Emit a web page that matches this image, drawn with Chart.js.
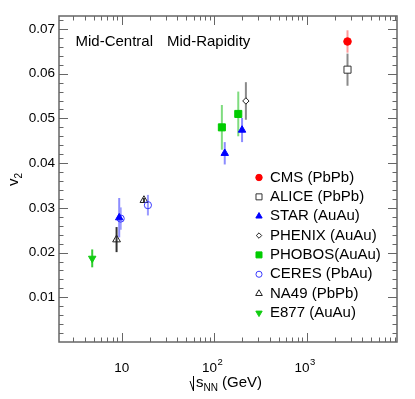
<!DOCTYPE html>
<html>
<head>
<meta charset="utf-8">
<script src="https://cdn.jsdelivr.net/npm/chart.js@4.4.0/dist/chart.umd.min.js"></script>
<style>
  html, body { margin: 0; padding: 0; background: #fff; }
  #wrap { width: 415px; height: 399px; position: relative; }
</style>
</head>
<body>
<div id="wrap"><canvas id="grafico"></canvas></div>
<script>
// Datos (sqrt(s_NN) en GeV, v2 y error)
const cmsE = [2760];            const cmsV = [0.0672];                   const cmsErr = [0.0025];
const aliceE = [2760];          const aliceV = [0.0609];                 const aliceErr = [0.0036];
const starE = [9.4, 130, 200];  const starV = [0.0278, 0.0422, 0.0474];  const starErr = [0.0044, 0.0025, 0.0027];
const phenixE = [220];          const phenixV = [0.0539];                const phenixErr = [0.0042];
const phobosE = [121, 182];     const phobosV = [0.0480, 0.0510];        const phobosErr = [0.0050, 0.0050];
const ceresE = [9.75, 19.2];    const ceresV = [0.0276, 0.0306];         const ceresErr = [0.0025, 0.0023];
const na49E = [8.8, 17.4];      const na49V = [0.0229, 0.0317];          const na49Err = [0.0028, 0.0005];
const e877E = [4.8];            const e877V = [0.0187];                  const e877Err = [0.0020];

const yTicks = [0.01, 0.02, 0.03, 0.04, 0.05, 0.06, 0.07];
const xTicks = [10, 100, 1000];
const xTickLabels = [['10', ''], ['10', '2'], ['10', '3']];

const FONT = '"Liberation Sans", Arial, Helvetica, sans-serif';

function serie(label, e, v, err, estilo) {
    return Object.assign({
        label: label,
        data: e.map((x, i) => ({ x: x, y: v[i] })),
        err: err,
        borderWidth: 1,
        pointHoverRadius: 0
    }, estilo);
}

const datasets = [
    serie('CMS (PbPb)', cmsE, cmsV, cmsErr, { pointStyle: 'circle', pointRadius: 3.8, backgroundColor: '#ff0000', borderColor: '#ff0000', errColor: '#ff9a9a' }),
    serie('ALICE (PbPb)', aliceE, aliceV, aliceErr, { pointStyle: 'rect', pointRadius: 5, backgroundColor: '#ffffff', borderColor: '#333333', errColor: '#8a8a8a' }),
    serie('STAR (AuAu)', starE, starV, starErr, { pointStyle: 'triangle', pointRadius: 4.3, backgroundColor: '#0000ff', borderColor: '#0000ff', errColor: '#8c8cff' }),
    serie('PHENIX (AuAu)', phenixE, phenixV, phenixErr, { pointStyle: 'rectRot', pointRadius: 3.2, backgroundColor: '#ffffff', borderColor: '#222222', errColor: '#8a8a8a' }),
    serie('PHOBOS(AuAu)', phobosE, phobosV, phobosErr, { pointStyle: 'rect', pointRadius: 5, backgroundColor: '#00cc00', borderColor: '#00cc00', errColor: '#7fdc7f' }),
    serie('CERES (PbAu)', ceresE, ceresV, ceresErr, { pointStyle: 'circle', pointRadius: 3.6, backgroundColor: 'rgba(0,0,0,0)', borderColor: '#3a3aff', errColor: '#9a9aff' }),
    serie('NA49 (PbPb)', na49E, na49V, na49Err, { pointStyle: 'triangle', pointRadius: 4.5, backgroundColor: 'rgba(0,0,0,0)', borderColor: '#222222', errColor: '#333333' }),
    serie('E877 (AuAu)', e877E, e877V, e877Err, { pointStyle: 'triangle', rotation: 180, pointRadius: 4.3, backgroundColor: '#11cc11', borderColor: '#11cc11', errColor: '#33cc33' })
];

// Barras de error detras de los puntos
const barrasError = {
    id: 'barrasError',
    beforeDatasetsDraw(chart) {
        const ctx = chart.ctx;
        const xs = chart.scales.x, ys = chart.scales.y;
        ctx.save();
        chart.data.datasets.forEach(ds => {
            ctx.strokeStyle = ds.errColor;
            ctx.lineWidth = 2;
            ds.data.forEach((p, i) => {
                const px = xs.getPixelForValue(p.x);
                ctx.beginPath();
                ctx.moveTo(px, ys.getPixelForValue(p.y - ds.err[i]));
                ctx.lineTo(px, ys.getPixelForValue(p.y + ds.err[i]));
                ctx.stroke();
            });
        });
        ctx.restore();
    }
};

// Marco estilo ROOT: ticks hacia dentro, etiquetas, titulos y leyenda
const marco = {
    id: 'marco',
    afterDraw(chart) {
        const ctx = chart.ctx;
        const a = chart.chartArea;
        const xs = chart.scales.x, ys = chart.scales.y;
        ctx.save();
        ctx.strokeStyle = '#666';
        ctx.lineWidth = 1.5;
        ctx.strokeRect(a.left, a.top, a.right - a.left, a.bottom - a.top);

        ctx.lineWidth = 1;
        ctx.beginPath();
        // ticks eje y (mayores cada 0.01, menores cada 0.002)
        for (let k = 0; k <= 36; k++) {
            const v = k * 0.002;
            const py = Math.round(ys.getPixelForValue(v)) + 0.5;
            if (py < a.top || py > a.bottom) continue;
            const len = (k % 5 === 0) ? 9 : 4.5;
            ctx.moveTo(a.left, py); ctx.lineTo(a.left + len, py);
            ctx.moveTo(a.right, py); ctx.lineTo(a.right - len, py);
        }
        // ticks eje x logaritmico
        for (let d = 1; d <= 1000; d *= 10) {
            for (let m = 1; m <= 9; m++) {
                const v = m * d;
                if (v < xs.min || v > xs.max) continue;
                const px = Math.round(xs.getPixelForValue(v)) + 0.5;
                const len = (m === 1) ? 9 : 4.5;
                ctx.moveTo(px, a.bottom); ctx.lineTo(px, a.bottom - len);
                ctx.moveTo(px, a.top); ctx.lineTo(px, a.top + len);
            }
        }
        ctx.stroke();

        // etiquetas eje y
        ctx.fillStyle = '#000';
        ctx.font = '13.5px ' + FONT;
        ctx.textAlign = 'right';
        ctx.textBaseline = 'middle';
        yTicks.forEach(v => ctx.fillText(v.toFixed(2), a.left - 4, ys.getPixelForValue(v)));

        // etiquetas eje x con exponentes
        xTicks.forEach((v, i) => {
            const [base, exp] = xTickLabels[i];
            ctx.font = '13.5px ' + FONT;
            const wb = ctx.measureText(base).width;
            ctx.font = '9.5px ' + FONT;
            const we = exp ? ctx.measureText(exp).width : 0;
            const x0 = xs.getPixelForValue(v) - (wb + we) / 2 - (exp ? 2 : 0);
            ctx.textAlign = 'left';
            ctx.textBaseline = 'alphabetic';
            ctx.font = '13.5px ' + FONT;
            ctx.fillText(base, x0, 372);
            if (exp) {
                ctx.font = '9.5px ' + FONT;
                ctx.fillText(exp, x0 + wb + 0.5, 365);
            }
        });

        // titulo eje x: raiz(s_NN) (GeV)
        ctx.strokeStyle = '#000';
        ctx.lineWidth = 1;
        ctx.beginPath();
        ctx.moveTo(190, 381); ctx.lineTo(193.5, 391); ctx.lineTo(193.5, 376);
        ctx.stroke();
        ctx.font = '15px ' + FONT;
        ctx.textAlign = 'left';
        ctx.fillText('s', 196, 387);
        let wx = 196 + ctx.measureText('s').width;
        ctx.font = '10px ' + FONT;
        ctx.fillText('NN', wx, 391);
        wx += ctx.measureText('NN').width;
        ctx.font = '15px ' + FONT;
        ctx.fillText(' (GeV)', wx, 387);

        // titulo eje y: v2
        ctx.save();
        ctx.translate(18, 180);
        ctx.rotate(-Math.PI / 2);
        ctx.font = '15px ' + FONT;
        ctx.textAlign = 'left';
        ctx.fillText('v', -6, 0);
        ctx.font = '10px ' + FONT;
        ctx.fillText('2', 1.5, 4);
        ctx.restore();

        // texto dentro del grafico
        ctx.font = '15px ' + FONT;
        ctx.textBaseline = 'middle';
        ctx.fillText('Mid-Central', 75.5, 41.5);
        ctx.fillText('Mid-Rapidity', 167, 41.5);

        // leyenda
        chart.data.datasets.forEach((ds, i) => {
            const y = 177.5 + i * 19.35;
            ctx.fillStyle = ds.backgroundColor;
            ctx.strokeStyle = ds.borderColor;
            ctx.lineWidth = 1;
            Chart.helpers.drawPoint(ctx, {
                pointStyle: ds.pointStyle,
                rotation: ds.rotation || 0,
                radius: ds.pointRadius * 0.85,
                borderWidth: 1
            }, 259, y);
            ctx.fillStyle = '#000';
            ctx.font = '15px ' + FONT;
            ctx.textAlign = 'left';
            ctx.textBaseline = 'middle';
            ctx.fillText(ds.label, 270, y);
        });
        ctx.restore();
    }
};

new Chart(document.getElementById('grafico'), {
    type: 'scatter',
    data: { datasets: datasets },
    options: {
        responsive: true,
        maintainAspectRatio: false,
        animation: false,
        layout: { padding: { left: 59, top: 16, right: 18, bottom: 57 } },
        plugins: { legend: { display: false }, tooltip: { enabled: false } },
        scales: {
            x: { type: 'logarithmic', min: 2.1, max: 9460, display: false },
            y: { type: 'linear', min: 0, max: 0.0729, display: false }
        }
    },
    plugins: [barrasError, marco]
});
</script>
</body>
</html>
